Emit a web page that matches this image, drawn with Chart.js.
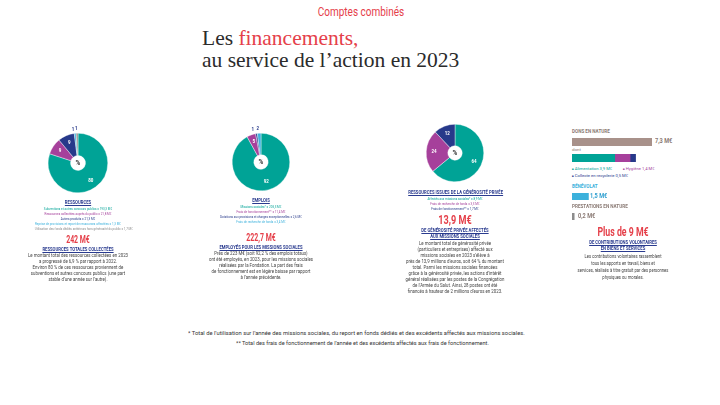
<!DOCTYPE html>
<html lang="fr">
<head>
<meta charset="utf-8">
<title>Comptes combinés</title>
<script src="https://cdn.jsdelivr.net/npm/chart.js@4.4.1/dist/chart.umd.min.js"></script>
<style>
  html, body { margin: 0; padding: 0; background: #fff; }
  body { width: 720px; height: 405px; position: relative; overflow: hidden;
         font-family: "Roboto", "Liberation Sans", sans-serif; color: #444; }
  .abs { position: absolute; white-space: nowrap; }
  .c { text-align: center; }
  .red { color: #e5404a; }
  .sl { transform-origin: 0 50%; }
  .head { font-weight: bold; font-size: 5.4px; line-height: 6.4px; color: #2a3b8f; text-decoration: underline; text-underline-offset: 0.6px; transform: scaleX(0.78); }
  .leg { font-size: 4.2px; line-height: 5px; transform: scaleX(0.72); }
  .body { font-size: 4.6px; line-height: 6px; color: #444; transform: scaleX(0.95); }
  .big { font-weight: bold; color: #e5404a; }
  canvas { position: absolute; }
</style>
</head>
<body>

<div class="abs c red" style="left:261px;top:4px;width:200px;font-size:12.5px;transform:scaleX(0.8);">Comptes combinés</div>
<div class="abs" style="left:202px;top:28px;font-family:'Liberation Serif','DejaVu Serif',serif;font-size:21.5px;line-height:20px;color:#2b2b2b;">Les <span class="red">financements,</span></div>
<div class="abs" style="left:202px;top:50px;font-family:'Liberation Serif','DejaVu Serif',serif;font-size:21.5px;line-height:20px;color:#2b2b2b;">au service de l’action en 2023</div>

<!-- Ressources -->
<canvas id="donutRessources" width="76" height="76" style="left:40px;top:125px;"></canvas>
<div class="abs c" style="left:18px;top:199px;width:120px;">
  <div class="head">RESSOURCES</div>
  <div class="leg" id="legRessources" style="margin-top:1px;"></div>
</div>
<div class="abs c" style="left:18px;top:233px;width:120px;">
  <div class="big" style="font-size:10.5px;line-height:13px;transform:scaleX(0.66);">242 M€</div>
  <div class="head">RESSOURCES TOTALES COLLECTÉES</div>
  <div class="body" style="margin-top:1px;">Le montant total des ressources collectées en 2023<br>a progressé de 6,9 % par rapport à 2022.<br>Environ 80 % de ces ressources proviennent de<br>subventions et autres concours publics (une part<br>stable d’une année sur l’autre).</div>
</div>

<!-- Emplois -->
<canvas id="donutEmplois" width="74" height="74" style="left:224px;top:125px;"></canvas>
<div class="abs c" style="left:201px;top:197px;width:120px;">
  <div class="head">EMPLOIS</div>
  <div class="leg" id="legEmplois" style="margin-top:1px;"></div>
</div>
<div class="abs c" style="left:201px;top:231px;width:120px;">
  <div class="big" style="font-size:10.5px;line-height:13px;transform:scaleX(0.66);">222,7 M€</div>
  <div class="head">EMPLOYÉS POUR LES MISSIONS SOCIALES</div>
  <div class="body" style="margin-top:1px;">Près de 223 M€ (soit 92,2 % des emplois totaux)<br>ont été employés, en 2023, pour les missions sociales<br>réalisées par la Fondation. La part des frais<br>de fonctionnement est en légère baisse par rapport<br>à l’année précédente.</div>
</div>

<!-- Générosité -->
<canvas id="donutGenerosite" width="74" height="74" style="left:418px;top:116px;"></canvas>
<div class="abs c" style="left:395px;top:189px;width:120px;">
  <div class="head">RESSOURCES ISSUES DE LA GÉNÉROSITÉ PRIVÉE</div>
  <div class="leg" id="legGenerosite" style="margin-top:1px;"></div>
</div>
<div class="abs c" style="left:395px;top:212px;width:120px;">
  <div class="big" style="font-size:13px;line-height:15px;transform:scaleX(0.7);">13,9 M€</div>
  <div class="head">DE GÉNÉROSITÉ PRIVÉE AFFECTÉS<br>AUX MISSIONS SOCIALES</div>
  <div class="body" style="margin-top:1px;">Le montant total de générosité privée<br>(particuliers et entreprises) affecté aux<br>missions sociales en 2023 s’élève à<br>près de 13,9 millions d’euros, soit 64 % du montant<br>total. Parmi les missions sociales financées<br>grâce à la générosité privée, les actions d’intérêt<br>général réalisées par les postes de la Congrégation<br>de l’Armée du Salut. Ainsi, 28 postes ont été<br>financés à hauteur de 2 millions d’euros en 2023.</div>
</div>

<!-- Contributions volontaires -->
<div class="abs" style="left:572px;top:129px;font-size:4.6px;font-weight:bold;color:#8a7a74;">DONS EN NATURE</div>
<canvas id="barDons" width="80" height="8" style="left:572px;top:138px;"></canvas>
<div class="abs sl" style="left:655px;top:137px;font-size:7px;font-weight:bold;color:#8a7a74;transform:scaleX(0.8);">7,3 M€</div>
<div class="abs" style="left:572px;top:147px;font-size:4.4px;color:#8a7a74;">dont</div>
<canvas id="barDont" width="80" height="8" style="left:572px;top:154px;"></canvas>
<div class="abs" style="left:572px;top:165.5px;font-size:4.2px;color:#00a396;"><span style="font-size:3px;">■</span> Alimentation 3,9 M€</div>
<div class="abs" style="left:623px;top:165.5px;font-size:4.2px;color:#a6409b;"><span style="font-size:3px;">■</span> Hygiène 1,4 M€</div>
<div class="abs" style="left:572px;top:173px;font-size:4.2px;color:#2a3b8f;"><span style="font-size:3px;">■</span> Collecte en recyclerie 0,5 M€</div>
<div class="abs" style="left:572px;top:184px;font-size:4.6px;font-weight:bold;color:#3cb1dc;">BÉNÉVOLAT</div>
<canvas id="barBenevolat" width="80" height="7" style="left:572px;top:193px;"></canvas>
<div class="abs sl" style="left:590px;top:192px;font-size:7px;font-weight:bold;color:#2e9fd0;transform:scaleX(0.8);">1,5 M€</div>
<div class="abs" style="left:572px;top:204px;font-size:4.6px;font-weight:bold;color:#8a7a74;">PRESTATIONS EN NATURE</div>
<canvas id="barPrestations" width="80" height="7" style="left:572px;top:213px;"></canvas>
<div class="abs sl" style="left:578px;top:212px;font-size:7px;font-weight:bold;color:#8a7a74;transform:scaleX(0.8);">0,2 M€</div>
<div class="abs c" style="left:563px;top:225px;width:120px;">
  <div class="big" style="font-size:12.5px;line-height:14px;transform:scaleX(0.7);">Plus de 9 M€</div>
  <div class="head">DE CONTRIBUTIONS VOLONTAIRES<br>EN BIENS ET SERVICES</div>
  <div class="body" style="margin-top:1.5px;line-height:7px;transform:scaleX(0.9);">Les contributions volontaires rassemblent<br>tous les apports en travail, biens et<br>services, réalisés à titre gratuit par des personnes<br>physiques ou morales.</div>
</div>

<div class="abs sl" style="left:188px;top:329px;font-size:6.2px;color:#333;transform:scaleX(0.935);">* Total de l’utilisation sur l’année des missions sociales, du report en fonds dédiés et des excédents affectés aux missions sociales.</div>
<div class="abs sl" style="left:236px;top:339px;font-size:6.2px;color:#333;transform:scaleX(0.9);">** Total des frais de fonctionnement de l’année et des excédents affectés aux frais de fonctionnement.</div>

<script>
const TEAL = '#00a396', PURPLE = '#a6409b', NAVY = '#27398a', SKY = '#3cb1dc', GREY = '#8c8c8c', TAUPE = '#a8918a';

// ressources (en %)
const ressourcesLabels = ['Subventions et autres concours publics = 193,3 M€', 'Ressources collectées auprès du public = 21,8 M€', 'Autres produits = 21,3 M€', 'Reprise de provisions et report de ressources affectées = 1,3 M€', 'Utilisation des fonds dédiés antérieurs hors générosité du public = 1,7 M€'];
const ressourcesPct = [80, 9, 9, 1, 1];
const ressourcesColors = [TEAL, PURPLE, NAVY, SKY, GREY];

// emplois (en %)
const emploisLabels = ['Missions sociales* = 205,3 M€', 'Frais de fonctionnement** = 11,4 M€', 'Dotations aux provisions et charges exceptionnelles = 2,6 M€', 'Frais de recherche de fonds = 3,4 M€'];
const emploisPct = [92, 5, 1, 2];
const emploisColors = [TEAL, PURPLE, NAVY, SKY];

// générosité privée (en %)
const generositeLabels = ['Affectés aux missions sociales* = 8,9 M€', 'Frais de recherche de fonds = 3,3 M€', 'Frais de fonctionnement** = 1,7 M€'];
const generositePct = [64, 24, 12];
const generositeColors = [TEAL, PURPLE, NAVY];

// contributions volontaires (M€)
const donsEnNature = [7.3];
const dontCategories = ['Alimentation', 'Hygiène', 'Collecte en recyclerie'];
const dontValues = [3.9, 1.4, 0.5];
const dontColors = [TEAL, PURPLE, NAVY];
const benevolat = [1.5];
const prestations = [0.2];
const barMax = 7.3;

// numbers on the slices + % in the hole
const sliceLabels = {
  id: 'sliceLabels',
  afterDatasetsDraw(chart) {
    const ctx = chart.ctx;
    const vals = chart.data.datasets[0].data;
    const meta = chart.getDatasetMeta(0);
    let cx = 0, cy = 0;
    ctx.save();
    ctx.textAlign = 'center';
    ctx.textBaseline = 'middle';
    meta.data.forEach((arc, i) => {
      const p = arc.getProps(['x', 'y', 'startAngle', 'endAngle', 'innerRadius', 'outerRadius'], true);
      cx = p.x; cy = p.y;
      let a = (p.startAngle + p.endAngle) / 2;
      const small = vals[i] < 3;
      let r = (p.innerRadius + p.outerRadius) / 2 + 3;
      if (small) {
        a = -Math.PI / 2 + (a + Math.PI / 2 - 2 * Math.PI) * 1.6;
        r = p.outerRadius + 4;
        ctx.fillStyle = NAVY;
      } else {
        ctx.fillStyle = '#fff';
      }
      ctx.font = 'bold 4.5px Roboto, sans-serif';
      ctx.fillText(String(vals[i]), p.x + Math.cos(a) * r, p.y + Math.sin(a) * r);
    });
    ctx.fillStyle = '#333';
    ctx.font = 'bold 6.5px Roboto, sans-serif';
    ctx.fillText('%', cx, cy + 0.5);
    ctx.restore();
  }
};

function makeDonut(id, labels, values, colors) {
  new Chart(document.getElementById(id), {
    type: 'doughnut',
    data: { labels, datasets: [{ data: values, backgroundColor: colors, borderColor: '#fff', borderWidth: 0.4 }] },
    options: {
      responsive: false,
      animation: false,
      cutout: '25%',
      layout: { padding: 8 },
      plugins: { legend: { display: false }, tooltip: { enabled: false } }
    },
    plugins: [sliceLabels]
  });
}

function fillLegend(id, labels, colors) {
  const el = document.getElementById(id);
  labels.forEach((t, i) => {
    const d = document.createElement('div');
    d.textContent = t;
    d.style.color = colors[i];
    el.appendChild(d);
  });
}

function makeBar(id, datasets) {
  new Chart(document.getElementById(id), {
    type: 'bar',
    data: { labels: [''], datasets },
    options: {
      indexAxis: 'y',
      responsive: false,
      animation: false,
      layout: { padding: 0 },
      datasets: { bar: { barPercentage: 1, categoryPercentage: 1, borderWidth: 0 } },
      scales: {
        x: { display: false, stacked: true, min: 0, max: barMax },
        y: { display: false, stacked: true }
      },
      plugins: { legend: { display: false }, tooltip: { enabled: false } }
    }
  });
}

makeDonut('donutRessources', ressourcesLabels, ressourcesPct, ressourcesColors);
makeDonut('donutEmplois', emploisLabels, emploisPct, emploisColors);
makeDonut('donutGenerosite', generositeLabels, generositePct, generositeColors);
fillLegend('legRessources', ressourcesLabels, ressourcesColors);
fillLegend('legEmplois', emploisLabels, emploisColors);
fillLegend('legGenerosite', generositeLabels, generositeColors);

makeBar('barDons', [{ label: 'Dons en nature', data: donsEnNature, backgroundColor: TAUPE }]);
makeBar('barDont', dontCategories.map((c, i) => ({ label: c, data: [dontValues[i]], backgroundColor: dontColors[i] })));
makeBar('barBenevolat', [{ label: 'Bénévolat', data: benevolat, backgroundColor: SKY }]);
makeBar('barPrestations', [{ label: 'Prestations en nature', data: prestations, backgroundColor: GREY }]);
</script>
</body>
</html>
